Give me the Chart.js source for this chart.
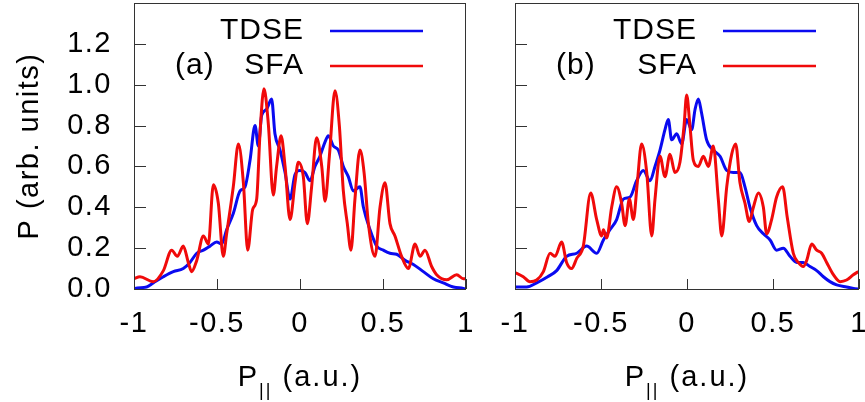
<!DOCTYPE html>
<html>
<head>
<meta charset="utf-8">
<script src="https://cdn.jsdelivr.net/npm/chart.js@4.4.0/dist/chart.umd.min.js"></script>
<style>
  html, body { margin: 0; padding: 0; background: #fff; overflow: hidden; }
  #wrap { position: relative; width: 865px; height: 402px; }
  #panelA { position: absolute; left: 0; top: 0; }
  #panelB { position: absolute; left: 490px; top: 0; }
</style>
</head>
<body>
<div id="wrap">
  <canvas id="panelA" width="490" height="402"></canvas>
  <canvas id="panelB" width="385" height="402"></canvas>
</div>
<script>
// momentum distributions, P(p_par) vs p_par
const xTicks = [-1, -0.5, 0, 0.5, 1];
const yTicks = [0, 0.2, 0.4, 0.6, 0.8, 1.0, 1.2];

// panel (a)
const pA_tdse = [-1.0, -0.994, -0.924, -0.884, -0.823, -0.763, -0.703, -0.663, -0.622, -0.582, -0.542, -0.502, -0.472,
  -0.442, -0.402, -0.361, -0.331, -0.301, -0.271, -0.251, -0.231, -0.201, -0.171, -0.151, -0.120, -0.090, -0.060,
  -0.030, 0.000, 0.030, 0.060, 0.090, 0.120, 0.151, 0.171, 0.201, 0.231, 0.261, 0.291, 0.321, 0.361, 0.382, 0.422,
  0.462, 0.502, 0.542, 0.582, 0.633, 0.683, 0.743, 0.803, 0.863, 0.924, 0.984, 1.0];
const wA_tdse = [0.0, 0.003, 0.01, 0.03, 0.06, 0.085, 0.10, 0.13, 0.175, 0.19, 0.21, 0.23, 0.22,
  0.29, 0.37, 0.48, 0.50, 0.63, 0.80, 0.70, 0.85, 0.88, 0.93, 0.76, 0.68, 0.57, 0.44,
  0.56, 0.58, 0.57, 0.53, 0.60, 0.65, 0.72, 0.75, 0.70, 0.68, 0.60, 0.55, 0.48, 0.50, 0.40, 0.29,
  0.21, 0.19, 0.175, 0.17, 0.14, 0.12, 0.085, 0.05, 0.03, 0.01, 0.003, 0.0];

const pA_sfa = [-1.0, -0.964, -0.884, -0.823, -0.773, -0.739, -0.703, -0.673, -0.653, -0.622, -0.582, -0.552, -0.522,
  -0.492, -0.462, -0.442, -0.402, -0.371, -0.341, -0.315, -0.285, -0.261, -0.241, -0.217, -0.191, -0.161, -0.141,
  -0.114, -0.090, -0.060, -0.030, -0.010, 0.020, 0.044, 0.070, 0.100, 0.131, 0.151, 0.177, 0.211, 0.237, 0.261,
  0.285, 0.307, 0.331, 0.361, 0.386, 0.412, 0.452, 0.482, 0.512, 0.542, 0.572, 0.612, 0.653, 0.693, 0.723, 0.753,
  0.793, 0.823, 0.884, 0.944, 0.984, 1.0];
const wA_sfa = [0.05, 0.06, 0.036, 0.09, 0.19, 0.16, 0.21, 0.13, 0.085, 0.14, 0.26, 0.22, 0.51,
  0.42, 0.16, 0.27, 0.50, 0.71, 0.52, 0.19, 0.39, 0.44, 0.76, 0.98, 0.81, 0.46, 0.60,
  0.75, 0.60, 0.34, 0.52, 0.62, 0.55, 0.32, 0.50, 0.74, 0.60, 0.43, 0.65, 0.97, 0.80, 0.48,
  0.32, 0.19, 0.44, 0.68, 0.57, 0.32, 0.16, 0.40, 0.52, 0.32, 0.26, 0.16, 0.10, 0.22, 0.16, 0.19,
  0.11, 0.07, 0.045, 0.07, 0.05, 0.05];

// panel (b)
const pB_tdse = [-1.0, -0.990, -0.932, -0.874, -0.810, -0.758, -0.700, -0.641, -0.583, -0.525, -0.486, -0.448, -0.409,
  -0.370, -0.331, -0.293, -0.254, -0.215, -0.186, -0.157, -0.128, -0.109, -0.089, -0.060, -0.031, -0.002, 0.027,
  0.047, 0.066, 0.085, 0.114, 0.153, 0.192, 0.231, 0.269, 0.308, 0.337, 0.366, 0.405, 0.444, 0.483, 0.521, 0.560,
  0.599, 0.638, 0.676, 0.715, 0.754, 0.793, 0.831, 0.870, 0.928, 0.996, 1.0];
const wB_tdse = [0.01, 0.01, 0.01, 0.03, 0.06, 0.09, 0.16, 0.175, 0.21, 0.175, 0.24, 0.29, 0.34,
  0.44, 0.45, 0.53, 0.58, 0.53, 0.60, 0.68, 0.78, 0.83, 0.73, 0.76, 0.71, 0.83, 0.78,
  0.88, 0.93, 0.86, 0.73, 0.68, 0.65, 0.58, 0.57, 0.57, 0.50, 0.40, 0.31, 0.27, 0.24, 0.19, 0.20,
  0.16, 0.13, 0.13, 0.11, 0.09, 0.06, 0.036, 0.02, 0.01, 0.0, 0.0];

const pB_sfa = [-1.0, -0.990, -0.952, -0.913, -0.874, -0.835, -0.796, -0.767, -0.729, -0.700, -0.671, -0.641, -0.603,
  -0.560, -0.525, -0.496, -0.486, -0.467, -0.438, -0.409, -0.380, -0.360, -0.335, -0.312, -0.289, -0.264, -0.234,
  -0.205, -0.186, -0.157, -0.128, -0.099, -0.070, -0.041, -0.017, -0.002, 0.017, 0.037, 0.066, 0.095, 0.124, 0.153,
  0.182, 0.202, 0.231, 0.260, 0.283, 0.308, 0.337, 0.362, 0.386, 0.415, 0.444, 0.463, 0.492, 0.521, 0.556, 0.583,
  0.618, 0.647, 0.676, 0.696, 0.725, 0.754, 0.783, 0.812, 0.851, 0.890, 0.928, 0.967, 0.996];
const wB_sfa = [0.08, 0.077, 0.06, 0.036, 0.044, 0.085, 0.175, 0.16, 0.23, 0.13, 0.10, 0.15, 0.21,
  0.47, 0.34, 0.26, 0.29, 0.25, 0.40, 0.50, 0.42, 0.31, 0.44, 0.34, 0.52, 0.71, 0.57,
  0.26, 0.44, 0.65, 0.55, 0.66, 0.57, 0.62, 0.80, 0.95, 0.80, 0.63, 0.60, 0.65, 0.60, 0.70,
  0.44, 0.26, 0.50, 0.66, 0.71, 0.52, 0.42, 0.33, 0.40, 0.47, 0.40, 0.27, 0.34, 0.45, 0.50, 0.35,
  0.175, 0.13, 0.11, 0.14, 0.22, 0.19, 0.175, 0.13, 0.07, 0.036, 0.044, 0.07, 0.085];

const FAMILY = '"Liberation Sans", Arial, sans-serif';
const BLUE = 'rgb(10, 10, 240)';
const RED = 'rgb(240, 10, 10)';

function pairs(xs, ys) {
  return xs.map((x, i) => ({ x: x, y: ys[i] }));
}

// slightly wider lettering for all axis text
const spacing = {
  id: 'spacing',
  beforeDraw(chart) {
    chart.ctx.letterSpacing = '1.5px';
  }
};

// border box plus inward tick marks (gnuplot style)
const frameTicks = {
  id: 'frameTicks',
  afterDatasetsDraw(chart) {
    const { ctx, chartArea: a, scales: { x, y } } = chart;
    ctx.save();
    ctx.strokeStyle = '#333';
    ctx.lineWidth = 1;
    ctx.beginPath();
    for (const t of xTicks) {
      const px = Math.round(x.getPixelForValue(t)) + 0.5;
      ctx.moveTo(px, a.bottom);
      ctx.lineTo(px, a.bottom - 10);
    }
    for (const t of yTicks) {
      const py = Math.round(y.getPixelForValue(t)) + 0.5;
      ctx.moveTo(a.left, py);
      ctx.lineTo(a.left + 12, py);
    }
    ctx.stroke();
    ctx.strokeRect(Math.round(a.left) + 0.5, Math.round(a.top) + 0.5,
      Math.round(a.width) - 1, Math.round(a.height));
    ctx.restore();
  }
};

// key in the upper right: label, then line sample; panel tag on the second row
const keyBox = {
  id: 'keyBox',
  afterDraw(chart, args, opts) {
    const { ctx, chartArea: a } = chart;
    const rows = [a.top + 28, a.top + 63];
    ctx.save();
    ctx.letterSpacing = '1px';
    ctx.font = '30px ' + FAMILY;
    ctx.fillStyle = '#000';
    ctx.textBaseline = 'middle';
    chart.data.datasets.forEach((ds, i) => {
      ctx.textAlign = 'right';
      ctx.fillText(ds.label, a.right - 162, rows[i]);
      ctx.strokeStyle = ds.borderColor;
      ctx.lineWidth = 2.5;
      ctx.beginPath();
      ctx.moveTo(a.right - 136, rows[i]);
      ctx.lineTo(a.right - 43, rows[i]);
      ctx.stroke();
    });
    ctx.textAlign = 'left';
    ctx.fillText(opts.tag, a.left + 41, rows[1]);
    ctx.restore();
  }
};

// x axis title with the "||" subscript
const parTitle = {
  id: 'parTitle',
  afterDraw(chart) {
    const { ctx, chartArea: a } = chart;
    const big = '29px ' + FAMILY;
    const small = '18px ' + FAMILY;
    ctx.save();
    ctx.letterSpacing = '2px';
    ctx.fillStyle = '#000';
    ctx.textAlign = 'left';
    ctx.textBaseline = 'alphabetic';
    ctx.font = big;
    const wP = ctx.measureText('P').width;
    const wR = ctx.measureText(' (a.u.)').width;
    ctx.font = small;
    const wS = ctx.measureText('||').width;
    const x0 = (a.left + a.right) / 2 - (wP + wS + wR) / 2;
    const base = 386;
    ctx.font = big;
    ctx.fillText('P', x0, base);
    ctx.font = small;
    ctx.fillText('||', x0 + wP, base + 10);
    ctx.font = big;
    ctx.fillText(' (a.u.)', x0 + wP + wS, base);
    ctx.restore();
  }
};

function buildPanel(id, tdseX, tdseY, sfaX, sfaY, tag, showY) {
  const yAxis = {
    min: 0,
    max: 1.4,
    afterBuildTicks: s => { s.ticks = yTicks.map(v => ({ value: v })); },
    afterFit: s => {
      s.width = showY ? 134 : 25;
      s.paddingTop = 0;
      s.paddingBottom = 0;
    },
    grid: { display: false, drawTicks: false },
    border: { display: false },
    ticks: {
      display: showY,
      padding: 22,
      color: '#000',
      font: { family: FAMILY, size: 29 },
      callback: v => v.toFixed(1)
    },
    title: {
      display: showY,
      text: 'P (arb. units)',
      color: '#000',
      font: { family: FAMILY, size: 29 },
      padding: { top: 13, bottom: 0 }
    }
  };

  return new Chart(document.getElementById(id), {
    type: 'line',
    data: {
      datasets: [
        { label: 'TDSE', data: pairs(tdseX, tdseY), borderColor: BLUE, borderWidth: 3, order: 2 },
        { label: 'SFA', data: pairs(sfaX, sfaY), borderColor: RED, borderWidth: 3, order: 1 }
      ]
    },
    options: {
      responsive: false,
      animation: false,
      parsing: false,
      elements: { point: { radius: 0 }, line: { cubicInterpolationMode: 'monotone' } },
      layout: { padding: { top: 3, bottom: 0, left: 0, right: showY ? 24 : 16 } },
      scales: {
        x: {
          type: 'linear',
          min: -1,
          max: 1,
          afterBuildTicks: s => { s.ticks = xTicks.map(v => ({ value: v })); },
          afterFit: s => {
            s.height = 113;
            s.paddingLeft = 0;
            s.paddingRight = 0;
          },
          grid: { display: false, drawTicks: false },
          border: { display: false },
          ticks: {
            padding: 18,
            maxRotation: 0,
            autoSkip: false,
            color: '#000',
            font: { family: FAMILY, size: 29 },
            callback: v => String(v)
          }
        },
        y: yAxis
      },
      plugins: {
        legend: { display: false },
        tooltip: { enabled: false },
        keyBox: { tag: tag }
      }
    },
    plugins: [spacing, frameTicks, keyBox, parTitle]
  });
}

buildPanel('panelA', pA_tdse, wA_tdse, pA_sfa, wA_sfa, '(a)', true);
buildPanel('panelB', pB_tdse, wB_tdse, pB_sfa, wB_sfa, '(b)', false);
</script>
</body>
</html>
